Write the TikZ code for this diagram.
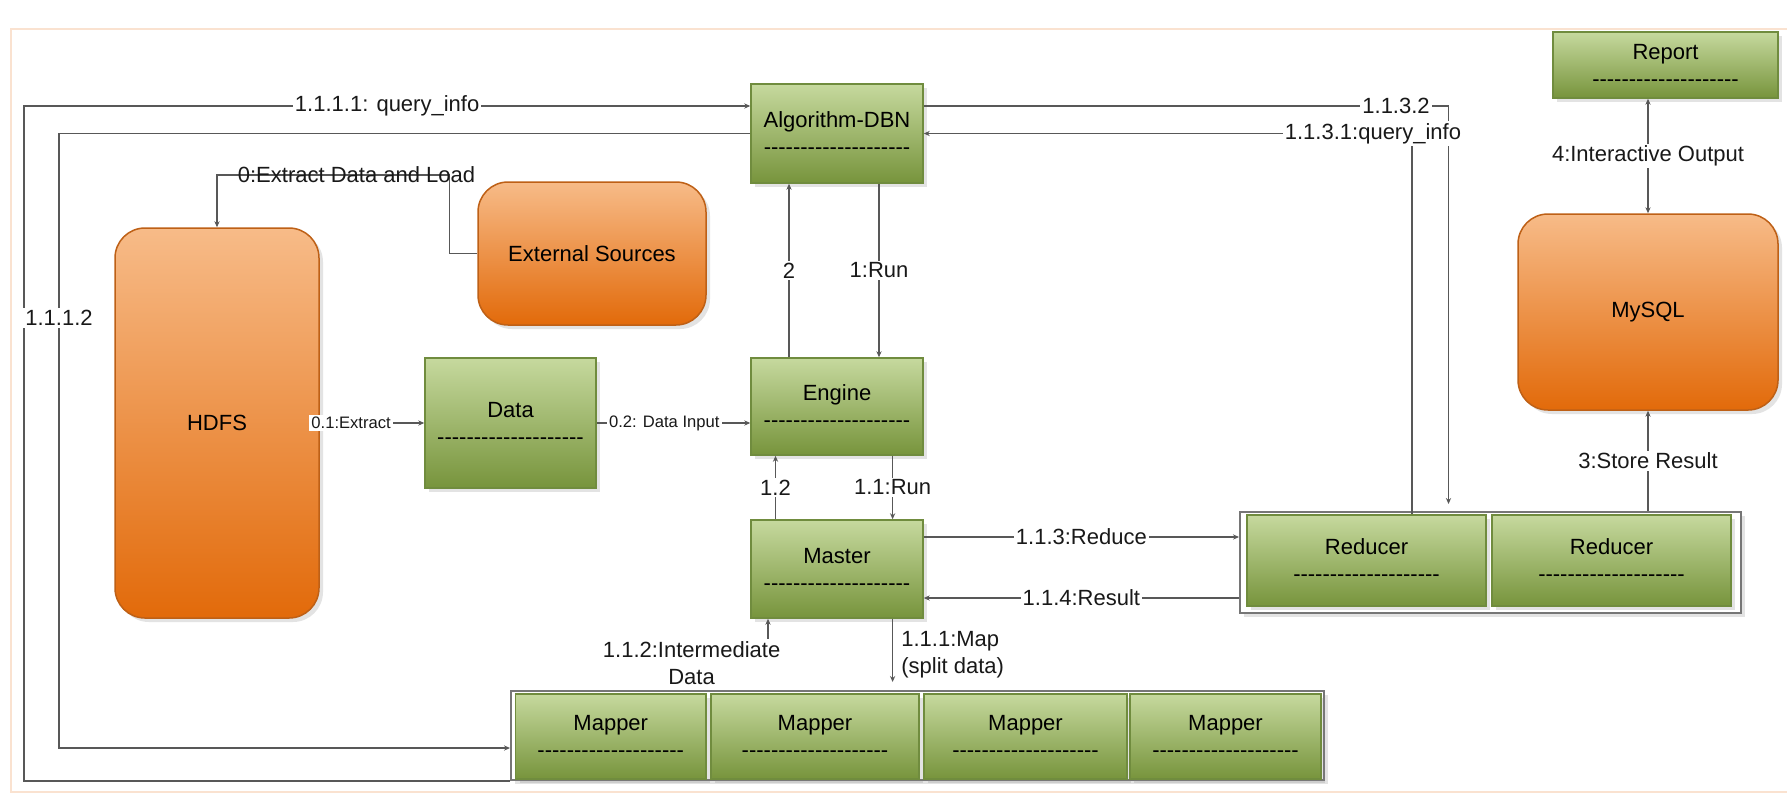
\documentclass[tikz,border=0pt]{standalone}
\usepackage{fontspec}
\setmainfont{Liberation Sans}
\usepackage{tikz}
\usetikzlibrary{arrows.meta, shadows}
\definecolor{gtop}{RGB}{198,217,158}
\definecolor{gbot}{RGB}{119,148,60}
\definecolor{gline}{RGB}{112,140,62}
\definecolor{otop}{RGB}{247,187,136}
\definecolor{obot}{RGB}{226,106,10}
\definecolor{oline}{RGB}{190,96,22}
\definecolor{wire}{RGB}{88,88,88}
\definecolor{grpline}{RGB}{118,118,118}
\definecolor{pageline}{RGB}{250,226,208}
\newcommand{\dashrow}{\foreach \k in {1,...,20}{-\kern0pt}}

\begin{document}
\begin{tikzpicture}[
    x=0.5pt, y=-0.5pt,
    font=\fontsize{11}{13.5}\selectfont,
    shade/.style={drop shadow={opacity=0.22, shadow xshift=2pt, shadow yshift=-2pt}},
    box/.style={draw=gline, line width=0.75pt, top color=gtop, bottom color=gbot, align=center, inner sep=0pt, shade},
    store/.style={draw=oline, line width=0.75pt, rounded corners=15pt, top color=otop, bottom color=obot, align=center, inner sep=0pt, shade},
    grp/.style={draw=grpline, line width=1pt, fill=white, inner sep=0pt, shade},
    arr/.style={draw=wire, line width=0.75pt, -{Stealth[length=3pt, width=2.6pt]}},
    arr2/.style={arr, {Stealth[length=3pt, width=2.6pt]}-{Stealth[length=3pt, width=2.6pt]}},
    lbl/.style={fill=white, inner sep=1pt, text=black!90},
    small/.style={lbl, font=\fontsize{8.3}{10}\selectfont},
    plain/.style={inner sep=1pt, text=black!90}
]
\useasboundingbox (0,0) rectangle (1787,794);
\fill[white] (0,0) rectangle (1787,794);
\draw[pageline, line width=1pt] (1787,29) -| (11,792) -- (1787,792);

% boxes
\node[box, minimum width=86pt, minimum height=49.5pt] (dbn) at (837,133.5) {Algorithm-DBN\\\dashrow};
\node[box, minimum width=112.5pt, minimum height=33pt] (report) at (1665.5,65) {Report\\\dashrow};
\node[store, minimum width=130pt, minimum height=98pt] (mysql) at (1648,312) {MySQL};
\node[store, minimum width=114pt, minimum height=71.5pt] (ext) at (592,253.5) {External Sources};
\node[store, minimum width=102pt, minimum height=195pt] (hdfs) at (217,423) {HDFS};
\node[box, minimum width=85.5pt, minimum height=65pt] (data) at (510.5,423) {Data\\\dashrow};
\node[box, minimum width=86pt, minimum height=48.5pt] (engine) at (837,406.5) {Engine\\\dashrow};
\node[box, minimum width=86pt, minimum height=49pt] (master) at (837,569) {Master\\\dashrow};

\node[grp, minimum width=406.5pt, minimum height=44.5pt] (mapgrp) at (917.5,735.5) {};
\node[box, minimum width=95.25pt, minimum height=42.5pt] (map1) at (610.75,736.5) {Mapper\\\dashrow};
\node[box, minimum width=104pt, minimum height=42.5pt] (map2) at (815,736.5) {Mapper\\\dashrow};
\node[box, minimum width=101.5pt, minimum height=42.5pt] (map3) at (1025.5,736.5) {Mapper\\\dashrow};
\node[box, minimum width=95.5pt, minimum height=42.5pt] (map4) at (1225.5,736.5) {Mapper\\\dashrow};

\node[grp, minimum width=250.5pt, minimum height=50.5pt] (redgrp) at (1490.5,562.5) {};
\node[box, minimum width=119.5pt, minimum height=45.5pt] (red1) at (1366.5,560.5) {Reducer\\\dashrow};
\node[box, minimum width=119.5pt, minimum height=45.5pt] (red2) at (1611.5,560.5) {Reducer\\\dashrow};

% bends and offsets
\coordinate (c1) at (24,106);
\coordinate (c2) at (59,748);
\coordinate (c3) at (449.5,175);
\coordinate (m1) at ([xshift=-34.5pt]master.south);
\coordinate (m2) at ([xshift=27.8pt]master.south);
\coordinate (r1) at ([yshift=16pt]master.east);
\coordinate (r2) at ([yshift=-14.5pt]master.east);
\coordinate (d1) at ([yshift=13.75pt]dbn.east);

% connectors
\draw[arr] (mapgrp.south west) -| (c1) -- (c1 -| dbn.west) node[lbl, midway] {1.1.1.1: query\_info};
\draw[arr] (dbn.west) -| (c2) node[lbl, pos=0.65] {1.1.1.2} -- (c2 -| mapgrp.west);
\draw[arr] (ext.west) -| (c3) -| (hdfs.north) node[plain, pos=0.2] {0:Extract Data and Load};
\draw[arr] ([xshift=-24pt]engine.north) -- ([xshift=-24pt]dbn.south) node[lbl, midway] {2};
\draw[arr] ([xshift=21pt]dbn.south) -- ([xshift=21pt]engine.north) node[lbl, midway] {1:Run};
\draw[arr] (hdfs.east) -- (data.west) node[small, pos=0.3] {0.1:Extract};
\draw[arr] (data.east) -- (data.east -| engine.west) node[small, pos=0.44] {0.2: Data Input};
\draw[arr] ([xshift=-30.75pt]master.north) -- ([xshift=-30.75pt]engine.south) node[lbl, midway] {1.2};
\draw[arr] ([xshift=27.8pt]engine.south) -- ([xshift=27.8pt]master.north) node[lbl, midway] {1.1:Run};
\draw[arr, shorten <=4pt] (m1 |- mapgrp.north) -- (m1) node[lbl, pos=0.38, anchor=east, xshift=7.5pt, align=center] {1.1.2:Intermediate\\Data};
\draw[arr, shorten >=4pt] (m2) -- (m2 |- mapgrp.north) node[lbl, pos=0.5, anchor=west, xshift=3pt, align=left] {1.1.1:Map\\(split data)};
\draw[arr] (r1) -- (r1 -| redgrp.west) node[lbl, midway] {1.1.3:Reduce};
\draw[arr] (r2 -| redgrp.west) -- (r2) node[lbl, midway] {1.1.4:Result};
\draw[arr, shorten >=3.5pt] (d1) -| ([xshift=-21pt]redgrp.north) node[lbl, pos=0.45] {1.1.3.2};
\draw[arr] ([xshift=22.75pt]red1.north) |- (dbn.east) node[lbl, pos=0.54] {1.1.3.1:query\_info};
\draw[arr2] (report.south -| mysql.north) -- (mysql.north) node[lbl, midway] {4:Interactive Output};
\draw[arr] (redgrp.north -| mysql.south) -- (mysql.south) node[lbl, midway] {3:Store Result};
\end{tikzpicture}
\end{document}
